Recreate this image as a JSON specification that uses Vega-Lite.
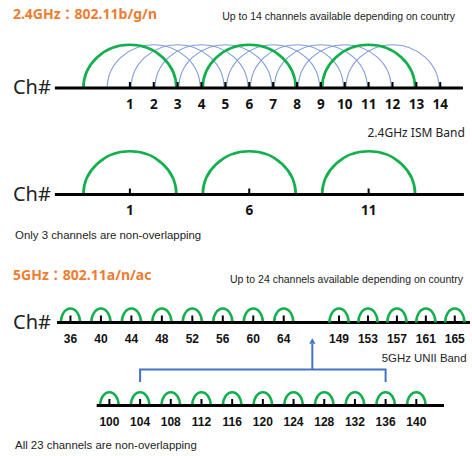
{
  "$schema": "https://vega.github.io/schema/vega-lite/v6.json",
  "width": 472,
  "height": 456,
  "autosize": {"type": "fit", "contains": "padding"},
  "padding": 0,
  "background": "white",
  "config": {"view": {"stroke": null}, "text": {"font": "Noto Sans"}},
  "datasets": {
    "ch24": [
      {"ch": 1, "arc": "green"}, {"ch": 2, "arc": "blue"}, {"ch": 3, "arc": "blue"}, {"ch": 4, "arc": "blue"},
      {"ch": 5, "arc": "blue"}, {"ch": 6, "arc": "green"}, {"ch": 7, "arc": "blue"}, {"ch": 8, "arc": "blue"},
      {"ch": 9, "arc": "blue"}, {"ch": 10, "arc": "blue"}, {"ch": 11, "arc": "green"}, {"ch": 12, "arc": "blue"},
      {"ch": 13, "arc": "none"}, {"ch": 14, "arc": "none"}
    ],
    "nonoverlap24": [{"ch": 1}, {"ch": 6}, {"ch": 11}],
    "ch5low": [{"ch": 36}, {"ch": 40}, {"ch": 44}, {"ch": 48}, {"ch": 52}, {"ch": 56}, {"ch": 60}, {"ch": 64}],
    "ch5high": [{"ch": 149}, {"ch": 153}, {"ch": 157}, {"ch": 161}, {"ch": 165}],
    "ch5mid": [{"ch": 100}, {"ch": 104}, {"ch": 108}, {"ch": 112}, {"ch": 116}, {"ch": 120}, {"ch": 124}, {"ch": 128}, {"ch": 132}, {"ch": 136}, {"ch": 140}],
    "axes": [
      {"panel": "p1", "start": -2.14, "end": 14.95},
      {"panel": "p2", "start": -2.14, "end": 14.99},
      {"panel": "p3", "start": 34.23, "end": 88.45},
      {"panel": "p4", "start": 98.34, "end": 143.61}
    ],
    "texts": [
      {"panel": "p1", "kind": "title", "text": "2.4GHz：802.11b/g/n", "x": -3.9, "y": 73},
      {"panel": "p1", "kind": "caption", "text": "Up to 14 channels available depending on country", "x": 14.62, "y": 71},
      {"panel": "p1", "kind": "axisname", "text": "Ch#", "x": -3.9, "y": 0},
      {"panel": "p2", "kind": "band", "text": "2.4GHz ISM Band", "x": 15.03, "y": 61.5},
      {"panel": "p2", "kind": "axisname", "text": "Ch#", "x": -3.9, "y": 0},
      {"panel": "p2", "kind": "note", "text": "Only 3 channels are non-overlapping", "x": -3.81, "y": -41},
      {"panel": "p3a", "kind": "title", "text": "5GHz：802.11a/n/ac", "x": 28.46, "y": 46.5},
      {"panel": "p3a", "kind": "axisname", "text": "Ch#", "x": 28.46, "y": 0},
      {"panel": "p3b", "kind": "caption", "text": "Up to 24 channels available depending on country", "x": 166.13, "y": 42.5},
      {"panel": "p4", "kind": "band", "text": "5GHz UNII Band", "x": 146.55, "y": 46.5},
      {"panel": "p4", "kind": "note", "text": "All 23 channels are non-overlapping", "x": 87.7, "y": -40.5}
    ],
    "bracket": [
      {"order": 1, "x": 104, "y": 23.5},
      {"order": 2, "x": 104, "y": 36},
      {"order": 3, "x": 136, "y": 36},
      {"order": 4, "x": 136, "y": 23.5}
    ],
    "arrow": [{"x": 126.45, "from": 36, "to": 61.5, "head": 64.5}]
  },
  "resolve": {"scale": {"x": "independent", "y": "independent"}},
  "layer": [
    {
      "layer": [
        {
          "data": {"name": "ch24"},
          "transform": [{"filter": "datum.arc == 'blue'"}],
          "mark": {"type": "point", "shape": "M -1 0 C -1 -0.5136 -0.5523 -0.93 0 -0.93 C 0.5523 -0.93 1 -0.5136 1 0", "size": 8649, "filled": false, "opacity": 1, "color": "#7f9cd9", "strokeWidth": 1.1},
          "encoding": {
            "x": {"field": "ch", "type": "quantitative", "scale": {"domain": [-4.44, 15.33], "nice": false, "zero": false}, "axis": null},
            "y": {"datum": 0, "type": "quantitative", "scale": {"domain": [-368, 88], "nice": false, "zero": false}, "axis": null}
          }
        },
        {
          "data": {"name": "ch24"},
          "transform": [{"filter": "datum.arc == 'green'"}],
          "mark": {"type": "point", "shape": "M -1 0 C -1 -0.5136 -0.5523 -0.93 0 -0.93 C 0.5523 -0.93 1 -0.5136 1 0", "size": 8649, "filled": false, "opacity": 1, "color": "#12b04c", "strokeWidth": 2.7},
          "encoding": {
            "x": {"field": "ch", "type": "quantitative", "axis": null},
            "y": {"datum": 0, "type": "quantitative", "axis": null}
          }
        },
        {
          "data": {"name": "axes"},
          "transform": [{"filter": "datum.panel == 'p1'"}],
          "mark": {"type": "rule", "color": "#000", "strokeWidth": 3},
          "encoding": {
            "x": {"field": "start", "type": "quantitative", "axis": null},
            "x2": {"field": "end"},
            "y": {"datum": 0, "type": "quantitative", "axis": null}
          }
        },
        {
          "data": {"name": "ch24"},
          "mark": {"type": "rule", "color": "#000", "strokeWidth": 2},
          "encoding": {
            "x": {"field": "ch", "type": "quantitative", "axis": null},
            "y": {"datum": 0, "type": "quantitative", "axis": null},
            "y2": {"datum": 6}
          }
        },
        {
          "data": {"name": "ch24"},
          "mark": {"type": "text", "font": "Noto Sans", "fontWeight": "bold", "fontSize": 13.5, "color": "#111", "baseline": "middle"},
          "encoding": {
            "x": {"field": "ch", "type": "quantitative", "axis": null},
            "y": {"datum": -17, "type": "quantitative", "axis": null},
            "text": {"field": "ch", "type": "nominal"}
          }
        },
        {
          "data": {"name": "texts"},
          "transform": [{"filter": "datum.panel == 'p1' && datum.kind == 'title'"}],
          "mark": {"type": "text", "font": "Noto Sans, Noto Sans CJK KR", "fontWeight": "bold", "fontSize": 14, "color": "#ED7D31", "align": "left", "baseline": "middle"},
          "encoding": {
            "x": {"field": "x", "type": "quantitative", "axis": null},
            "y": {"field": "y", "type": "quantitative", "axis": null},
            "text": {"field": "text"}
          }
        },
        {
          "data": {"name": "texts"},
          "transform": [{"filter": "datum.panel == 'p1' && datum.kind == 'caption'"}],
          "mark": {"type": "text", "font": "Liberation Sans", "fontSize": 10.5, "color": "#222", "align": "right", "baseline": "middle"},
          "encoding": {
            "x": {"field": "x", "type": "quantitative", "axis": null},
            "y": {"field": "y", "type": "quantitative", "axis": null},
            "text": {"field": "text"}
          }
        },
        {
          "data": {"name": "texts"},
          "transform": [{"filter": "datum.panel == 'p1' && datum.kind == 'axisname'"}],
          "mark": {"type": "text", "font": "Noto Sans", "fontSize": 20, "color": "#222", "align": "left", "baseline": "middle"},
          "encoding": {
            "x": {"field": "x", "type": "quantitative", "axis": null},
            "y": {"field": "y", "type": "quantitative", "axis": null},
            "text": {"field": "text"}
          }
        }
      ]
    },
    {
      "layer": [
        {
          "data": {"name": "nonoverlap24"},
          "mark": {"type": "point", "shape": "M -1 0 C -1 -0.5136 -0.5523 -0.93 0 -0.93 C 0.5523 -0.93 1 -0.5136 1 0", "size": 8649, "filled": false, "opacity": 1, "color": "#12b04c", "strokeWidth": 2.7},
          "encoding": {
            "x": {"field": "ch", "type": "quantitative", "scale": {"domain": [-4.44, 15.33], "nice": false, "zero": false}, "axis": null},
            "y": {"datum": 0, "type": "quantitative", "scale": {"domain": [-261.5, 194.5], "nice": false, "zero": false}, "axis": null}
          }
        },
        {
          "data": {"name": "axes"},
          "transform": [{"filter": "datum.panel == 'p2'"}],
          "mark": {"type": "rule", "color": "#000", "strokeWidth": 3},
          "encoding": {
            "x": {"field": "start", "type": "quantitative", "axis": null},
            "x2": {"field": "end"},
            "y": {"datum": 0, "type": "quantitative", "axis": null}
          }
        },
        {
          "data": {"name": "nonoverlap24"},
          "mark": {"type": "rule", "color": "#000", "strokeWidth": 2},
          "encoding": {
            "x": {"field": "ch", "type": "quantitative", "axis": null},
            "y": {"datum": 0, "type": "quantitative", "axis": null},
            "y2": {"datum": 6}
          }
        },
        {
          "data": {"name": "nonoverlap24"},
          "mark": {"type": "text", "font": "Noto Sans", "fontWeight": "bold", "fontSize": 13.5, "color": "#111", "baseline": "middle"},
          "encoding": {
            "x": {"field": "ch", "type": "quantitative", "axis": null},
            "y": {"datum": -16, "type": "quantitative", "axis": null},
            "text": {"field": "ch", "type": "nominal"}
          }
        },
        {
          "data": {"name": "texts"},
          "transform": [{"filter": "datum.panel == 'p2' && datum.kind == 'band'"}],
          "mark": {"type": "text", "font": "Noto Sans", "fontSize": 12, "color": "#222", "align": "right", "baseline": "middle"},
          "encoding": {
            "x": {"field": "x", "type": "quantitative", "axis": null},
            "y": {"field": "y", "type": "quantitative", "axis": null},
            "text": {"field": "text"}
          }
        },
        {
          "data": {"name": "texts"},
          "transform": [{"filter": "datum.panel == 'p2' && datum.kind == 'axisname'"}],
          "mark": {"type": "text", "font": "Noto Sans", "fontSize": 20, "color": "#222", "align": "left", "baseline": "middle"},
          "encoding": {
            "x": {"field": "x", "type": "quantitative", "axis": null},
            "y": {"field": "y", "type": "quantitative", "axis": null},
            "text": {"field": "text"}
          }
        },
        {
          "data": {"name": "texts"},
          "transform": [{"filter": "datum.panel == 'p2' && datum.kind == 'note'"}],
          "mark": {"type": "text", "font": "Liberation Sans", "fontSize": 11.4, "color": "#222", "align": "left", "baseline": "middle"},
          "encoding": {
            "x": {"field": "x", "type": "quantitative", "axis": null},
            "y": {"field": "y", "type": "quantitative", "axis": null},
            "text": {"field": "text"}
          }
        }
      ]
    },
    {
      "layer": [
        {
          "data": {"name": "ch5low"},
          "mark": {"type": "point", "shape": "M -1 0 C -1 -0.8008 -0.5523 -1.45 0 -1.45 C 0.5523 -1.45 1 -0.8008 1 0", "size": 370, "filled": false, "opacity": 1, "color": "#12b04c", "strokeWidth": 2.5},
          "encoding": {
            "x": {"field": "ch", "type": "quantitative", "scale": {"domain": [26.75, 88.72], "nice": false, "zero": false}, "axis": null},
            "y": {"datum": 0, "type": "quantitative", "scale": {"domain": [-133.5, 322.5], "nice": false, "zero": false}, "axis": null}
          }
        },
        {
          "data": {"name": "axes"},
          "transform": [{"filter": "datum.panel == 'p3'"}],
          "mark": {"type": "rule", "color": "#000", "strokeWidth": 3},
          "encoding": {
            "x": {"field": "start", "type": "quantitative", "axis": null},
            "x2": {"field": "end"},
            "y": {"datum": 0, "type": "quantitative", "axis": null}
          }
        },
        {
          "data": {"name": "ch5low"},
          "mark": {"type": "rule", "color": "#000", "strokeWidth": 2},
          "encoding": {
            "x": {"field": "ch", "type": "quantitative", "axis": null},
            "y": {"datum": 0, "type": "quantitative", "axis": null},
            "y2": {"datum": 7}
          }
        },
        {
          "data": {"name": "ch5low"},
          "mark": {"type": "text", "font": "Liberation Sans", "fontWeight": "bold", "fontSize": 12, "color": "#111", "baseline": "middle"},
          "encoding": {
            "x": {"field": "ch", "type": "quantitative", "axis": null},
            "y": {"datum": -16, "type": "quantitative", "axis": null},
            "text": {"field": "ch", "type": "nominal"}
          }
        },
        {
          "data": {"name": "texts"},
          "transform": [{"filter": "datum.panel == 'p3a' && datum.kind == 'title'"}],
          "mark": {"type": "text", "font": "Noto Sans, Noto Sans CJK KR", "fontWeight": "bold", "fontSize": 14, "color": "#ED7D31", "align": "left", "baseline": "middle"},
          "encoding": {
            "x": {"field": "x", "type": "quantitative", "axis": null},
            "y": {"field": "y", "type": "quantitative", "axis": null},
            "text": {"field": "text"}
          }
        },
        {
          "data": {"name": "texts"},
          "transform": [{"filter": "datum.panel == 'p3a' && datum.kind == 'axisname'"}],
          "mark": {"type": "text", "font": "Noto Sans", "fontSize": 20, "color": "#222", "align": "left", "baseline": "middle"},
          "encoding": {
            "x": {"field": "x", "type": "quantitative", "axis": null},
            "y": {"field": "y", "type": "quantitative", "axis": null},
            "text": {"field": "text"}
          }
        }
      ]
    },
    {
      "layer": [
        {
          "data": {"name": "ch5high"},
          "mark": {"type": "point", "shape": "M -1 0 C -1 -0.8008 -0.5523 -1.45 0 -1.45 C 0.5523 -1.45 1 -0.8008 1 0", "size": 370, "filled": false, "opacity": 1, "color": "#12b04c", "strokeWidth": 2.5},
          "encoding": {
            "x": {"field": "ch", "type": "quantitative", "scale": {"domain": [102.14, 167.38], "nice": false, "zero": false}, "axis": null},
            "y": {"datum": 0, "type": "quantitative", "scale": {"domain": [-133.5, 322.5], "nice": false, "zero": false}, "axis": null}
          }
        },
        {
          "data": {"name": "ch5high"},
          "mark": {"type": "rule", "color": "#000", "strokeWidth": 2},
          "encoding": {
            "x": {"field": "ch", "type": "quantitative", "axis": null},
            "y": {"datum": 0, "type": "quantitative", "axis": null},
            "y2": {"datum": 7}
          }
        },
        {
          "data": {"name": "ch5high"},
          "mark": {"type": "text", "font": "Liberation Sans", "fontWeight": "bold", "fontSize": 12, "color": "#111", "baseline": "middle"},
          "encoding": {
            "x": {"field": "ch", "type": "quantitative", "axis": null},
            "y": {"datum": -16, "type": "quantitative", "axis": null},
            "text": {"field": "ch", "type": "nominal"}
          }
        },
        {
          "data": {"name": "texts"},
          "transform": [{"filter": "datum.panel == 'p3b' && datum.kind == 'caption'"}],
          "mark": {"type": "text", "font": "Liberation Sans", "fontSize": 10.5, "color": "#222", "align": "right", "baseline": "middle"},
          "encoding": {
            "x": {"field": "x", "type": "quantitative", "axis": null},
            "y": {"field": "y", "type": "quantitative", "axis": null},
            "text": {"field": "text"}
          }
        }
      ]
    },
    {
      "layer": [
        {
          "data": {"name": "ch5mid"},
          "mark": {"type": "point", "shape": "M -1 0 C -1 -0.8008 -0.5523 -1.45 0 -1.45 C 0.5523 -1.45 1 -0.8008 1 0", "size": 340, "filled": false, "opacity": 1, "color": "#12b04c", "strokeWidth": 2.5},
          "encoding": {
            "x": {"field": "ch", "type": "quantitative", "scale": {"domain": [85.74, 147.26], "nice": false, "zero": false}, "axis": null},
            "y": {"datum": 0, "type": "quantitative", "scale": {"domain": [-50.5, 405.5], "nice": false, "zero": false}, "axis": null}
          }
        },
        {
          "data": {"name": "axes"},
          "transform": [{"filter": "datum.panel == 'p4'"}],
          "mark": {"type": "rule", "color": "#000", "strokeWidth": 3},
          "encoding": {
            "x": {"field": "start", "type": "quantitative", "axis": null},
            "x2": {"field": "end"},
            "y": {"datum": 0, "type": "quantitative", "axis": null}
          }
        },
        {
          "data": {"name": "ch5mid"},
          "mark": {"type": "rule", "color": "#000", "strokeWidth": 2},
          "encoding": {
            "x": {"field": "ch", "type": "quantitative", "axis": null},
            "y": {"datum": 0, "type": "quantitative", "axis": null},
            "y2": {"datum": 6.5}
          }
        },
        {
          "data": {"name": "ch5mid"},
          "mark": {"type": "text", "font": "Liberation Sans", "fontWeight": "bold", "fontSize": 12, "color": "#111", "baseline": "middle"},
          "encoding": {
            "x": {"field": "ch", "type": "quantitative", "axis": null},
            "y": {"datum": -16, "type": "quantitative", "axis": null},
            "text": {"field": "ch", "type": "nominal"}
          }
        },
        {
          "data": {"name": "bracket"},
          "mark": {"type": "line", "color": "#4472C4", "strokeWidth": 2, "strokeJoin": "miter"},
          "encoding": {
            "x": {"field": "x", "type": "quantitative", "axis": null},
            "y": {"field": "y", "type": "quantitative", "axis": null},
            "order": {"field": "order"}
          }
        },
        {
          "data": {"name": "arrow"},
          "mark": {"type": "rule", "color": "#4472C4", "strokeWidth": 2},
          "encoding": {
            "x": {"field": "x", "type": "quantitative", "axis": null},
            "y": {"field": "from", "type": "quantitative", "axis": null},
            "y2": {"field": "to"}
          }
        },
        {
          "data": {"name": "arrow"},
          "mark": {"type": "point", "shape": "triangle-up", "size": 40, "filled": true, "opacity": 1, "color": "#4472C4"},
          "encoding": {
            "x": {"field": "x", "type": "quantitative", "axis": null},
            "y": {"field": "head", "type": "quantitative", "axis": null}
          }
        },
        {
          "data": {"name": "texts"},
          "transform": [{"filter": "datum.panel == 'p4' && datum.kind == 'band'"}],
          "mark": {"type": "text", "font": "Liberation Sans", "fontSize": 11.4, "color": "#222", "align": "right", "baseline": "middle"},
          "encoding": {
            "x": {"field": "x", "type": "quantitative", "axis": null},
            "y": {"field": "y", "type": "quantitative", "axis": null},
            "text": {"field": "text"}
          }
        },
        {
          "data": {"name": "texts"},
          "transform": [{"filter": "datum.panel == 'p4' && datum.kind == 'note'"}],
          "mark": {"type": "text", "font": "Liberation Sans", "fontSize": 11.4, "color": "#222", "align": "left", "baseline": "middle"},
          "encoding": {
            "x": {"field": "x", "type": "quantitative", "axis": null},
            "y": {"field": "y", "type": "quantitative", "axis": null},
            "text": {"field": "text"}
          }
        }
      ]
    }
  ]
}
